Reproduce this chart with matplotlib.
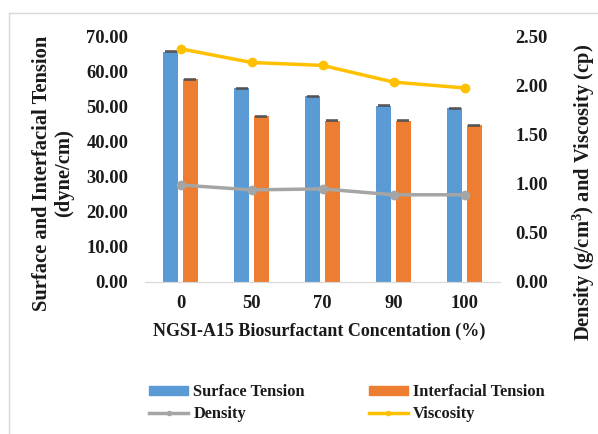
import matplotlib
matplotlib.use("Agg")
import matplotlib.pyplot as plt
import numpy as np
from matplotlib.lines import Line2D

plt.rcParams['font.family'] = ['Liberation Serif', 'DejaVu Serif']
plt.rcParams['font.weight'] = 'bold'

categories = ["0", "50", "70", "90", "100"]
surface_tension = [65.8, 55.3, 53.1, 50.4, 49.7]
interfacial_tension = [57.9, 47.3, 46.1, 46.1, 44.8]
surface_err = [0.15, 0.15, 0.15, 0.15, 0.15]
interfacial_err = [0.15, 0.15, 0.15, 0.15, 0.15]
density = [0.99, 0.94, 0.95, 0.89, 0.89]
viscosity = [2.38, 2.24, 2.21, 2.04, 1.98]

left_ticks = ["0.00", "10.00", "20.00", "30.00", "40.00", "50.00", "60.00", "70.00"]
right_ticks = ["0.00", "0.50", "1.00", "1.50", "2.00", "2.50"]

BLUE = "#5b9bd5"
ORANGE = "#ed7d31"
GRAY = "#a5a5a5"
GOLD = "#ffc000"
TEXT = "#1a1a1a"

W, H = 598, 434
fig = plt.figure(figsize=(W / 100, H / 100), dpi=100)
ax = fig.add_axes([145 / W, 1 - 282 / H, 355 / W, 245 / H])
ax2 = ax.twinx()

x = np.arange(len(categories))
bw = 0.21
off = 0.14
err_style = dict(ecolor="#505050", capsize=4.5, lw=0.8, capthick=1.1)
ax.bar(x - off, surface_tension, bw, color=BLUE, zorder=2,
       yerr=surface_err, error_kw=err_style)
ax.bar(x + off, interfacial_tension, bw, color=ORANGE, zorder=2,
       yerr=interfacial_err, error_kw=err_style)

ax2.plot(x, density, color=GRAY, lw=2.5, marker="o", ms=6, zorder=3)
ax2.plot(x, viscosity, color=GOLD, lw=2.5, marker="o", ms=6, zorder=3)

ax.set_xlim(-0.5, len(categories) - 0.5)
ax.set_ylim(0, 70)
ax2.set_ylim(0, 2.5)
ax.set_xticks(x, categories)
ax.set_yticks(np.arange(0, 71, 10), left_ticks)
ax2.set_yticks(np.arange(0, 2.51, 0.5), right_ticks)

for a in (ax, ax2):
    for s in ("top", "right", "left"):
        a.spines[s].set_visible(False)
    a.spines["bottom"].set_color("#d9d9d9")
    a.tick_params(length=0, labelsize=13.3, colors=TEXT)
ax.tick_params(axis="y", pad=12)
ax2.tick_params(axis="y", pad=11)
ax.tick_params(axis="x", pad=9)

# axis titles
fig.text(53 / W, 1 - 173 / H, "Surface and Interfacial Tension\n(dyne/cm)",
         rotation=90, ha="center", va="center", fontsize=14.8,
         fontweight="bold", linespacing=1.15, color=TEXT)
fig.text(584 / W, 1 - 192 / H, "Density (g/cm$\\mathregular{^3}$) and Viscosity (cp)",
         rotation=90, ha="center", va="center", fontsize=14.8,
         fontweight="bold", color=TEXT)
fig.text(319 / W, 1 - 331 / H, "NGSI-A15 Biosurfactant Concentation (%)",
         ha="center", va="center", fontsize=13, fontweight="bold", color=TEXT)

handles = [
    plt.Rectangle((0, 0), 1, 1, color=BLUE),
    Line2D([], [], color=GRAY, lw=2.5, marker="o", ms=3),
    plt.Rectangle((0, 0), 1, 1, color=ORANGE),
    Line2D([], [], color=GOLD, lw=2.5, marker="o", ms=3),
]
labels = ["Surface Tension", "Density", "Interfacial Tension", "Viscosity"]
leg = fig.legend(handles, labels, ncol=2, loc="center left",
                 bbox_to_anchor=(149 / W, 1 - 403 / H), frameon=False,
                 fontsize=11.8, handlelength=2.4, handleheight=0.45,
                 columnspacing=3.9, labelspacing=0.35, handletextpad=0.3,
                 borderpad=0, borderaxespad=0)
for t in leg.get_texts():
    t.set_color(TEXT)

# light frame around the chart
fig.add_artist(Line2D([9 / W, 1], [1 - 13 / H, 1 - 13 / H], color="#d9d9d9", lw=1))
fig.add_artist(Line2D([9 / W, 9 / W], [0, 1 - 13 / H], color="#d9d9d9", lw=1))

fig.savefig("out.png", dpi=100)
